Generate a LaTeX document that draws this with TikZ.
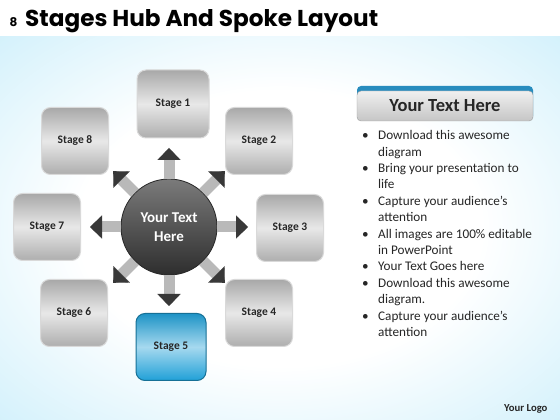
\documentclass[tikz,border=0pt]{standalone}
\usepackage{fontspec}
\setmainfont{Carlito}
\newfontfamily\titlefont{Poppins}
\usetikzlibrary{arrows.meta,calc}

\definecolor{bgcyan}{RGB}{196,236,250}
\definecolor{stageblue}{RGB}{32,160,215}
\definecolor{bandblue}{RGB}{40,140,190}

\pgfdeclareradialshading{bgglow}{\pgfpoint{0bp}{0bp}}{%
  color(0bp)=(white); color(18bp)=(white); color(42bp)=(bgcyan); color(80bp)=(bgcyan)}

\tikzset{
  stagebox/.style={rectangle, rounded corners=9pt, minimum width=67pt, minimum height=67pt,
    draw=gray!30, line width=1pt, top color=gray!68, bottom color=gray!64, middle color=gray!18,
    font=\fontsize{11.5}{13}\selectfont\bfseries, text=black!85},
  activebox/.style={stagebox, draw=stageblue!70!black, top color=stageblue!92!black,
    bottom color=stageblue, middle color=stageblue!40},
  spoke/.style={line width=11pt, gray!55,
    -{Triangle[width=23pt, length=12pt, line width=0.1pt, color=black!78]}},
  hubball/.style={circle, minimum size=96pt, draw=black!85, line width=0.8pt,
    top color=black!52, bottom color=black!82, text=white!92,
    font=\fontsize{15}{19}\selectfont\bfseries, align=center},
  headbox/.style={rectangle, rounded corners=4pt, minimum width=176pt, minimum height=30pt,
    draw=gray!75, top color=gray!12, bottom color=gray!45,
    font=\fontsize{18.5}{20}\selectfont\bfseries, text=black!85}
}

\begin{document}
\begin{tikzpicture}[x=1pt, y=1pt]
    \useasboundingbox (0,0) rectangle (560,420);

    % Background
    \fill[white] (0,0) rectangle (560,420);
    \shade[shading=bgglow] (0,0) rectangle (560,383);

    % Title
    \node[anchor=base west, font=\titlefont\fontsize{12}{14}\selectfont\bfseries] (num) at (6,393) {8};
    \node[anchor=base west, inner sep=0pt] (title) at (25,393)
        {\resizebox{353pt}{17pt}{\titlefont\bfseries Stages Hub And Spoke Layout}};

    % Stages
    \node[stagebox, minimum width=72pt, minimum height=68pt] (s1) at (173,316) {Stage 1};
    \node[stagebox] (s2) at (259,279) {Stage 2};
    \node[stagebox] (s3) at (290,192) {Stage 3};
    \node[stagebox] (s4) at (259,107) {Stage 4};
    \node[activebox, minimum width=70pt] (s5) at (171,73) {Stage 5};
    \node[stagebox] (s6) at (74,107) {Stage 6};
    \node[stagebox] (s7) at (47,193) {Stage 7};
    \node[stagebox] (s8) at (75,279) {Stage 8};

    % Hub and spokes
    \node[hubball] (hub) at (169,193) {Your Text\\Here};
    \foreach \a [count=\i] in {90,45,0,-45,-90,-135,180,135} {
        \coordinate (tip\i) at ($(hub.center)+(\a:79)$);
        \draw[spoke] (hub) -- (tip\i);
    }

    % Text panel
    \node[rectangle, rounded corners=4pt, minimum width=176pt, minimum height=34pt,
          fill=bandblue] (band) at (445,317) {};
    \node[headbox] (head) at (445,314) {Your Text Here};
    \node[anchor=north west, inner sep=0pt, text=black!85] (points) at (362,292)
    {\fontsize{13.2}{16.4}\selectfont
     \begin{tabular}{@{}p{16pt}@{}l@{}}
     \textbullet & Download this awesome\\
                 & diagram\\
     \textbullet & Bring your presentation to\\
                 & life\\
     \textbullet & Capture your audience’s\\
                 & attention\\
     \textbullet & All images are 100\% editable\\
                 & in PowerPoint\\
     \textbullet & Your Text Goes here\\
     \textbullet & Download this awesome\\
                 & diagram.\\
     \textbullet & Capture your audience’s\\
                 & attention
     \end{tabular}};

    % Logo
    \node[anchor=base east, font=\fontsize{10.7}{12}\selectfont\bfseries, text=black!85] (logo) at (551,8) {Your Logo};

\end{tikzpicture}
\end{document}
